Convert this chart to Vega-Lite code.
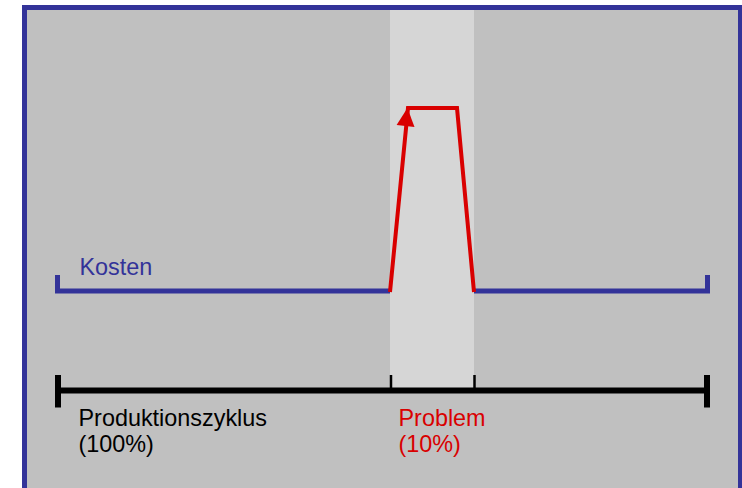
{
  "$schema": "https://vega.github.io/schema/vega-lite/v6.json",
  "width": 742,
  "height": 488,
  "autosize": {"type": "fit", "contains": "padding"},
  "padding": 0,
  "background": "#ffffff",
  "config": {"view": {"stroke": null}, "font": "Liberation Sans"},
  "datasets": {
    "frame": [{"x": 24.5, "x2": 740.5, "y": 7.5, "y2": 600}],
    "band": [{"x": 390, "x2": 474, "y": 10, "y2": 388}],
    "kosten": [
      {"seg": "a", "o": 1, "x": 57.5, "y": 275},
      {"seg": "a", "o": 2, "x": 57.5, "y": 291},
      {"seg": "a", "o": 3, "x": 390, "y": 291},
      {"seg": "b", "o": 1, "x": 474, "y": 291},
      {"seg": "b", "o": 2, "x": 707.5, "y": 291},
      {"seg": "b", "o": 3, "x": 707.5, "y": 275}
    ],
    "problem": [
      {"o": 1, "x": 390, "y": 292},
      {"o": 2, "x": 408, "y": 108},
      {"o": 3, "x": 457, "y": 108},
      {"o": 4, "x": 474, "y": 292}
    ],
    "arrow": [{"x": 406.5, "y": 117}],
    "axisline": [{"x": 58, "x2": 707, "y": 390.5}],
    "caps": [
      {"x": 58, "y": 375, "y2": 407.5},
      {"x": 707, "y": 375, "y2": 407.5}
    ],
    "ticks": [
      {"x": 391, "y": 375, "y2": 390},
      {"x": 474.5, "y": 375, "y2": 390}
    ],
    "labels": [
      {"text": "Kosten", "x": 79.5, "y": 275, "c": "blue"},
      {"text": "Produktionszyklus", "x": 78.5, "y": 426, "c": "black"},
      {"text": "(100%)", "x": 78.5, "y": 452, "c": "black"},
      {"text": "Problem", "x": 398.5, "y": 426, "c": "red"},
      {"text": "(10%)", "x": 398.5, "y": 452, "c": "red"}
    ]
  },
  "layer": [
    {
      "data": {"name": "frame"},
      "mark": {"type": "rect", "fill": "#c0c0c0", "stroke": "#333399", "strokeWidth": 5, "clip": true},
      "encoding": {
        "x": {"field": "x", "type": "quantitative", "scale": {"domain": [0, 742], "nice": false, "zero": false}, "axis": null},
        "x2": {"field": "x2"},
        "y": {"field": "y", "type": "quantitative", "scale": {"domain": [0, 488], "reverse": true, "nice": false, "zero": false}, "axis": null},
        "y2": {"field": "y2"}
      }
    },
    {
      "data": {"name": "band"},
      "mark": {"type": "rect", "fill": "#d6d6d6"},
      "encoding": {
        "x": {"field": "x", "type": "quantitative"},
        "x2": {"field": "x2"},
        "y": {"field": "y", "type": "quantitative"},
        "y2": {"field": "y2"}
      }
    },
    {
      "data": {"name": "kosten"},
      "mark": {"type": "line", "color": "#333399", "strokeWidth": 5, "strokeJoin": "miter", "strokeCap": "butt"},
      "encoding": {
        "x": {"field": "x", "type": "quantitative"},
        "y": {"field": "y", "type": "quantitative"},
        "detail": {"field": "seg"},
        "order": {"field": "o"}
      }
    },
    {
      "data": {"name": "problem"},
      "mark": {"type": "line", "color": "#d90000", "strokeWidth": 4, "strokeJoin": "miter", "strokeCap": "butt"},
      "encoding": {
        "x": {"field": "x", "type": "quantitative"},
        "y": {"field": "y", "type": "quantitative"},
        "order": {"field": "o"}
      }
    },
    {
      "data": {"name": "arrow"},
      "mark": {"type": "point", "shape": "M-1,1L1,1L0,-1Z", "size": 324, "filled": true, "color": "#d90000", "opacity": 1, "angle": 6},
      "encoding": {
        "x": {"field": "x", "type": "quantitative"},
        "y": {"field": "y", "type": "quantitative"}
      }
    },
    {
      "data": {"name": "axisline"},
      "mark": {"type": "rule", "color": "#000000", "strokeWidth": 6},
      "encoding": {
        "x": {"field": "x", "type": "quantitative"},
        "x2": {"field": "x2"},
        "y": {"field": "y", "type": "quantitative"}
      }
    },
    {
      "data": {"name": "caps"},
      "mark": {"type": "rule", "color": "#000000", "strokeWidth": 6},
      "encoding": {
        "x": {"field": "x", "type": "quantitative"},
        "y": {"field": "y", "type": "quantitative"},
        "y2": {"field": "y2"}
      }
    },
    {
      "data": {"name": "ticks"},
      "mark": {"type": "rule", "color": "#000000", "strokeWidth": 2.5},
      "encoding": {
        "x": {"field": "x", "type": "quantitative"},
        "y": {"field": "y", "type": "quantitative"},
        "y2": {"field": "y2"}
      }
    },
    {
      "data": {"name": "labels"},
      "mark": {"type": "text", "align": "left", "baseline": "alphabetic", "fontSize": 23.4, "font": "Liberation Sans"},
      "encoding": {
        "x": {"field": "x", "type": "quantitative"},
        "y": {"field": "y", "type": "quantitative"},
        "text": {"field": "text"},
        "color": {"field": "c", "type": "nominal", "scale": {"domain": ["blue", "black", "red"], "range": ["#333399", "#000000", "#d90000"]}, "legend": null}
      }
    }
  ]
}
